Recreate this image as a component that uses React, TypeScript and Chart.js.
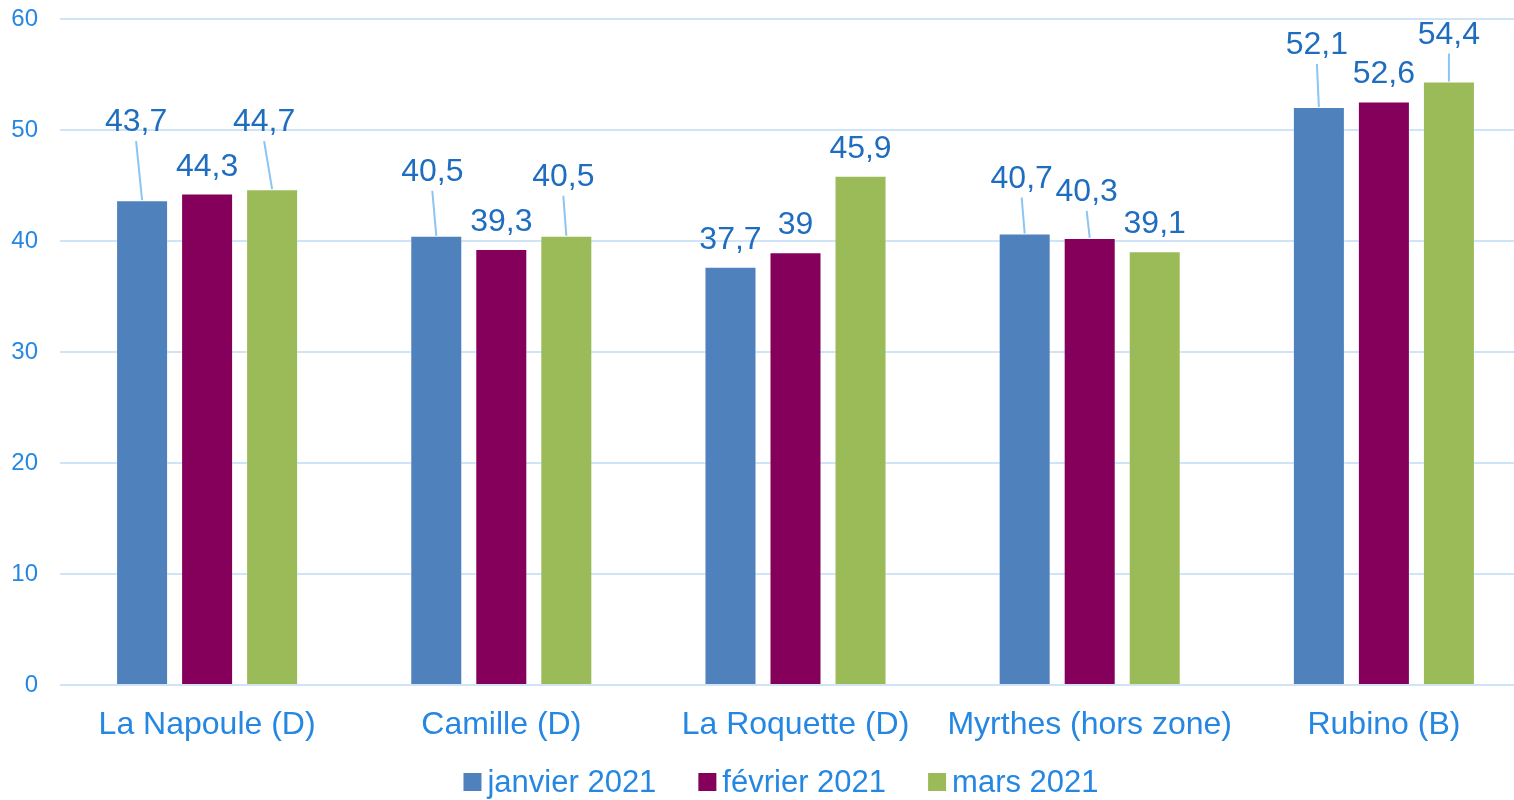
import { useEffect, useRef } from "react";
import { Chart, registerables } from "chart.js";

Chart.register(...registerables);

const categories = ["La Napoule (D)", "Camille (D)", "La Roquette (D)", "Myrthes (hors zone)", "Rubino (B)"];
const seriesNames = ["janvier 2021", "février 2021", "mars 2021"];
const janvier = [43.7, 40.5, 37.7, 40.7, 52.1];
const fevrier = [44.3, 39.3, 39, 40.3, 52.6];
const mars = [44.7, 40.5, 45.9, 39.1, 54.4];
const yMin = 0;
const yMax = 60;
const yStep = 10;

const seriesColors = ["#4F81BD", "#84005A", "#9BBB59"];

// displacement (px) of each data label from its default spot above the bar
const labelShift: number[][][] = [
  [[-6, -51], [-4, -37], [0, 0], [-3, -28], [-2, -35]],
  [[0, 0], [0, 0], [0, 0], [-3, -19], [0, 0]],
  [[-8, -40], [-3, -32], [0, 0], [0, 0], [0, -20]],
];

const FONT = "'Liberation Sans', Arial, Helvetica, sans-serif";
const TICK_COLOR = "#2587E2";
const LABEL_COLOR = "#1F6DBF";
const LEADER_COLOR = "#8CC5F2";
const GRID_COLOR = "#CFE5F7";
const CANVAS_SHIFT = 17;
const LEGEND_CENTER_X = 781;
const LEGEND_CENTER_Y = 782 + CANVAS_SHIFT;

const labelPlugin = {
  id: "barLabels",
  afterDatasetsDraw(chart: any) {
    const ctx = chart.ctx;
    ctx.save();
    ctx.font = `32px ${FONT}`;
    ctx.textAlign = "center";
    ctx.textBaseline = "alphabetic";
    chart.data.datasets.forEach((ds: any, i: number) => {
      const meta = chart.getDatasetMeta(i);
      meta.data.forEach((bar: any, j: number) => {
        const [dx, dy] = labelShift[i][j];
        const x = bar.x + dx;
        const base = bar.y - 18 + dy;
        if (dy < -5) {
          ctx.strokeStyle = LEADER_COLOR;
          ctx.lineWidth = 2;
          ctx.beginPath();
          ctx.moveTo(x, base + 10);
          ctx.lineTo(bar.x, bar.y);
          ctx.stroke();
        }
        ctx.fillStyle = LABEL_COLOR;
        ctx.fillText(String(ds.data[j]).replace(".", ","), x, base);
      });
    });
    ctx.restore();
  },
};

const legendPlugin = {
  id: "customLegend",
  afterDraw(chart: any) {
    const ctx = chart.ctx;
    ctx.save();
    ctx.font = `31px ${FONT}`;
    const box = 18;
    const gap = 6;
    const spacing = 42;
    const items = chart.data.datasets.map((ds: any) => ({
      text: ds.label,
      color: ds.backgroundColor,
      w: ctx.measureText(ds.label).width,
    }));
    const total =
      items.reduce((s: number, it: any) => s + box + gap + it.w, 0) + spacing * (items.length - 1);
    let x = LEGEND_CENTER_X - total / 2;
    ctx.textBaseline = "middle";
    ctx.textAlign = "left";
    items.forEach((it: any) => {
      ctx.fillStyle = it.color;
      ctx.fillRect(x, LEGEND_CENTER_Y - box / 2, box, box);
      x += box + gap;
      ctx.fillStyle = TICK_COLOR;
      ctx.fillText(it.text, x, LEGEND_CENTER_Y + 1);
      x += it.w + spacing;
    });
    ctx.restore();
  },
};

export default function App() {
  const canvasRef = useRef<HTMLCanvasElement | null>(null);

  useEffect(() => {
    if (!canvasRef.current) return;
    const chart = new Chart(canvasRef.current, {
      type: "bar",
      data: {
        labels: categories,
        datasets: [janvier, fevrier, mars].map((values, i) => ({
          label: seriesNames[i],
          data: values,
          backgroundColor: seriesColors[i],
          borderColor: "rgba(255,255,255,0.3)",
          borderWidth: 1,
          categoryPercentage: 0.663,
          barPercentage: 0.8,
        })),
      },
      options: {
        responsive: false,
        animation: false,
        layout: { padding: { top: 1, right: 0, bottom: 0, left: 0 } },
        plugins: {
          legend: { display: false },
          tooltip: { enabled: false },
        },
        scales: {
          x: {
            grid: { display: false, drawTicks: false },
            border: { display: false },
            ticks: {
              color: TICK_COLOR,
              font: { family: FONT, size: 32 },
              padding: 21,
              maxRotation: 0,
              autoSkip: false,
            },
            afterFit(scale: any) {
              scale.height = 115;
            },
          },
          y: {
            min: yMin,
            max: yMax,
            ticks: {
              stepSize: yStep,
              color: TICK_COLOR,
              font: { family: FONT, size: 24 },
              padding: 22,
            },
            grid: { color: GRID_COLOR, lineWidth: 2, drawTicks: false },
            border: { display: false },
            afterFit(scale: any) {
              scale.width = 60;
            },
          },
        },
      },
      plugins: [labelPlugin, legendPlugin],
    });
    return () => chart.destroy();
  }, []);

  return (
    <div
      style={{
        position: "absolute",
        left: 0,
        top: 0,
        width: 1514,
        height: 800,
        overflow: "hidden",
        background: "#FFFFFF",
      }}
    >
      <canvas
        ref={canvasRef}
        width={1531}
        height={800 + CANVAS_SHIFT}
        style={{ display: "block", position: "absolute", left: 0, top: -CANVAS_SHIFT }}
      />
    </div>
  );
}
